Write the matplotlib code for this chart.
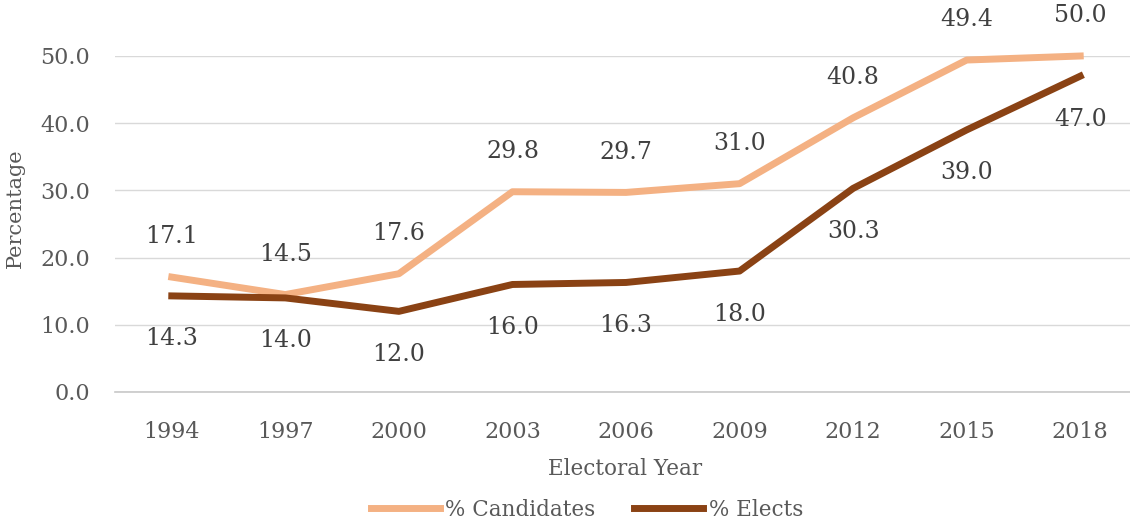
import matplotlib.pyplot as plt

years = ['1994', '1997', '2000', '2003', '2006', '2009', '2012', '2015', '2018']
candidates = [17.1, 14.5, 17.6, 29.8, 29.7, 31.0, 40.8, 49.4, 50.0]
elects = [14.3, 14.0, 12.0, 16.0, 16.3, 18.0, 30.3, 39.0, 47.0]

light = '#F4B183'
dark = '#8A4214'
txt = '#404040'
grey = '#595959'

plt.rcParams['font.family'] = ['DejaVu Serif']

fig = plt.figure(figsize=(11.3, 5.26), dpi=100)
ax = fig.add_axes([115 / 1130, 134 / 526, 1022 / 1130, 336 / 526])

x = range(len(years))
ax.plot(x, candidates, color=light, lw=5, label='% Candidates', clip_on=False, zorder=3)
ax.plot(x, elects, color=dark, lw=5, label='% Elects', clip_on=False, zorder=4)

# value labels: candidates above, elects below
for i, v in enumerate(candidates):
    ax.annotate(f'{v:.1f}', (i, v), xytext=(0, 29), textcoords='offset points',
                ha='center', va='center', fontsize=17, color=txt)
for i, v in enumerate(elects):
    ax.annotate(f'{v:.1f}', (i, v), xytext=(0, -31), textcoords='offset points',
                ha='center', va='center', fontsize=17, color=txt)

ax.set_xlim(-0.5, len(years) - 0.5)
ax.set_ylim(0, 50)
ax.set_xticks(list(x))
ax.set_xticklabels(years)
ax.set_yticks([0, 10, 20, 30, 40, 50])
ax.set_yticklabels([f'{t:.1f}' for t in [0, 10, 20, 30, 40, 50]])
ax.tick_params(axis='both', length=0, labelsize=16, labelcolor=grey)
ax.tick_params(axis='x', pad=21)
ax.tick_params(axis='y', pad=18)

ax.grid(axis='y', color='#D9D9D9', lw=1)
ax.set_axisbelow(True)
for s in ['top', 'right', 'left']:
    ax.spines[s].set_visible(False)
ax.spines['bottom'].set_color('#C8C8C8')
ax.spines['bottom'].set_linewidth(1.2)

fig.text(15 / 1130, 1 - 208 / 526, 'Percentage', rotation=90, ha='center', va='center',
         fontsize=15, color=grey)
fig.text(625 / 1130, 1 - 469 / 526, 'Electoral Year', ha='center', va='center',
         fontsize=15.5, color=grey)

fig.legend(loc='center', bbox_to_anchor=(587 / 1130, 1 - 510 / 526), ncol=2, frameon=False,
           fontsize=15.5, labelcolor=grey, handlelength=3.2, handletextpad=0.25,
           columnspacing=1.8)

fig.savefig('out.png', dpi=100)
